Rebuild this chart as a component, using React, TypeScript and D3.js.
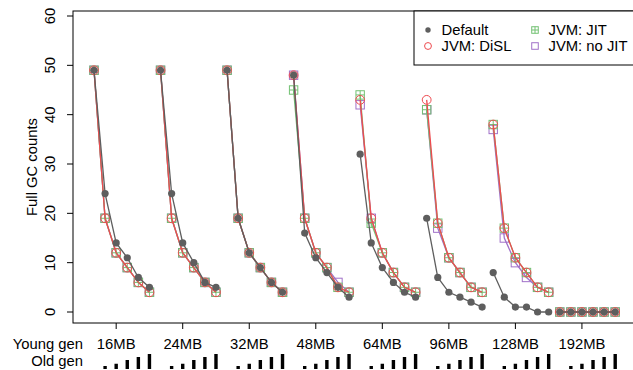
import React from "react";
import * as d3 from "d3";

// Young generation sizes (one group of runs per size)
const youngGen = ["16MB", "24MB", "32MB", "48MB", "64MB", "96MB", "128MB", "192MB"];
// Relative old generation size for the six runs inside each group
const oldGenLevels = [0, 0.2, 0.35, 0.6, 0.8, 1.0];

// Full GC counts per young gen group, six old gen sizes each
const defaultGC = [
  [49, 24, 14, 11, 7, 5],
  [49, 24, 14, 10, 6, 5],
  [49, 19, 12, 9, 6, 4],
  [48, 16, 11, 8, 5, 3],
  [32, 14, 9, 6, 4, 3],
  [19, 7, 4, 3, 2, 1],
  [8, 3, 1, 1, 0, 0],
  [0, 0, 0, 0, 0, 0],
];
const dislGC = [
  [49, 19, 12, 9, 6, 4],
  [49, 19, 12, 9, 6, 4],
  [49, 19, 12, 9, 6, 4],
  [48, 19, 12, 9, 5, 4],
  [43, 19, 12, 8, 5, 4],
  [43, 18, 11, 8, 5, 4],
  [38, 17, 11, 8, 5, 4],
  [0, 0, 0, 0, 0, 0],
];
const jitGC = [
  [49, 19, 12, 9, 6, 4],
  [49, 19, 12, 9, 6, 4],
  [49, 19, 12, 9, 6, 4],
  [45, 19, 12, 9, 5, 4],
  [44, 18, 12, 8, 5, 4],
  [41, 18, 11, 8, 5, 4],
  [38, 17, 11, 8, 5, 4],
  [0, 0, 0, 0, 0, 0],
];
const noJitGC = [
  [49, 19, 12, 9, 6, 4],
  [49, 19, 12, 9, 6, 4],
  [49, 19, 12, 9, 6, 4],
  [48, 19, 12, 9, 6, 4],
  [42, 19, 12, 8, 5, 4],
  [41, 17, 11, 8, 5, 4],
  [37, 15, 10, 7, 5, 4],
  [0, 0, 0, 0, 0, 0],
];
const yTicks = [0, 10, 20, 30, 40, 50, 60];

const FONT = "'Liberation Sans', Arial, Helvetica, sans-serif";
const FS = 14.8;
const GREY = "#5E5E5E";
const RED = "#EE4B50";
const GREEN = "#72C172";
const PURPLE = "#A070C8";

const W = 633;
const H = 370;
const box = { left: 73, right: 636, top: 11, bottom: 323 };
const perGroup = 6;
const nPts = youngGen.length * perGroup;

const x = d3.scaleLinear().domain([0, nPts - 1]).range([94, 615.2]);
const y = d3.scaleLinear().domain([0, 60]).range([312, 16]);
const barH = d3.scaleLinear().domain([0, 1]).range([0, 15]);

type Shape = "dot" | "circle" | "squarePlus" | "square";

function Marker({ shape, cx, cy, color, s = 1 }: { shape: Shape; cx: number; cy: number; color: string; s?: number }) {
  if (shape === "dot") return <circle cx={cx} cy={cy} r={3.6 * s} fill={color} />;
  if (shape === "circle")
    return <circle cx={cx} cy={cy} r={4.4 * s} fill="none" stroke={color} strokeWidth={1} />;
  const h = 4.2 * s;
  return (
    <g stroke={color} strokeWidth={1} fill="none">
      <rect x={cx - h} y={cy - h} width={2 * h} height={2 * h} />
      {shape === "squarePlus" && (
        <path d={`M${cx - h},${cy}H${cx + h}M${cx},${cy - h}V${cy + h}`} />
      )}
    </g>
  );
}

// drawn in this order so the default run ends up on top
const series: { name: string; data: number[][]; color: string; shape: Shape }[] = [
  { name: "JVM: no JIT", data: noJitGC, color: PURPLE, shape: "square" },
  { name: "JVM: JIT", data: jitGC, color: GREEN, shape: "squarePlus" },
  { name: "JVM: DiSL", data: dislGC, color: RED, shape: "circle" },
  { name: "Default", data: defaultGC, color: GREY, shape: "dot" },
];

export default function App() {
  return (
    <svg width={W} height={H} style={{ position: "absolute", left: 0, top: 0 }} fontFamily={FONT}>
      <rect width={W} height={H} fill="#fff" />
      {/* series: lines within each group, then markers */}
      {series.map((s) => (
        <g key={s.name}>
          {s.data.map((vals, g) => {
            const l = d3
              .line<number>()
              .x((_, i) => x(g * perGroup + i))
              .y((d) => y(d));
            return <path key={g} d={l(vals) || ""} fill="none" stroke={s.color} strokeWidth={1.3} />;
          })}
          {s.data.map((vals, g) =>
            vals.map((v, i) => (
              <Marker key={`${g}-${i}`} shape={s.shape} cx={x(g * perGroup + i)} cy={y(v)} color={s.color} />
            ))
          )}
        </g>
      ))}

      {/* plot frame */}
      <rect
        x={box.left}
        y={box.top}
        width={box.right - box.left}
        height={box.bottom - box.top}
        fill="none"
        stroke="#000"
        strokeWidth={1}
      />

      {/* y axis */}
      {yTicks.map((t) => (
        <g key={t}>
          <line x1={box.left - 6} x2={box.left} y1={y(t)} y2={y(t)} stroke="#000" />
          <text
            transform={`translate(55,${y(t)}) rotate(-90)`}
            textAnchor="middle"
            fontSize={FS}
            fill="#000"
          >
            {t}
          </text>
        </g>
      ))}
      <text
        transform={`translate(36.5,${(box.top + box.bottom) / 2}) rotate(-90)`}
        textAnchor="middle"
        fontSize={FS}
        fill="#000"
      >
        Full GC counts
      </text>

      {/* x axis: young gen labels */}
      {youngGen.map((lab, g) => {
        const tx = x(g * perGroup + 2);
        return (
          <g key={lab}>
            <line x1={tx} x2={tx} y1={box.bottom} y2={box.bottom + 6} stroke="#000" />
            <text x={tx} y={349} textAnchor="middle" fontSize={FS} fill="#000">
              {lab}
            </text>
          </g>
        );
      })}
      <text x={83} y={349} textAnchor="end" fontSize={FS} fill="#000">
        Young gen
      </text>
      <text x={83} y={366} textAnchor="end" fontSize={FS} fill="#000">
        Old gen
      </text>
      {/* old gen size bars */}
      {youngGen.map((lab, g) =>
        oldGenLevels.map((lv, i) => {
          const bh = barH(lv);
          return bh > 0 ? (
            <rect
              key={`${lab}-${i}`}
              x={x(g * perGroup + i) - 1.7}
              y={369 - bh}
              width={3.4}
              height={bh}
              fill="#000"
            />
          ) : null;
        })
      )}

      {/* legend */}
      <rect x={414} y={box.top} width={240} height={54} fill="#fff" stroke="#000" strokeWidth={1} />
      {[
        { s: series[3], lx: 428, ly: 30 },
        { s: series[2], lx: 428, ly: 46 },
        { s: series[1], lx: 535, ly: 30 },
        { s: series[0], lx: 535, ly: 46 },
      ].map(({ s, lx, ly }) => (
        <g key={s.name}>
          <Marker shape={s.shape} cx={lx} cy={ly} color={s.color} s={s.shape === "dot" ? 0.75 : 0.78} />
          <text x={lx + 13.5} y={ly + 5.2} fontSize={FS} fill="#000">
            {s.name}
          </text>
        </g>
      ))}
    </svg>
  );
}
